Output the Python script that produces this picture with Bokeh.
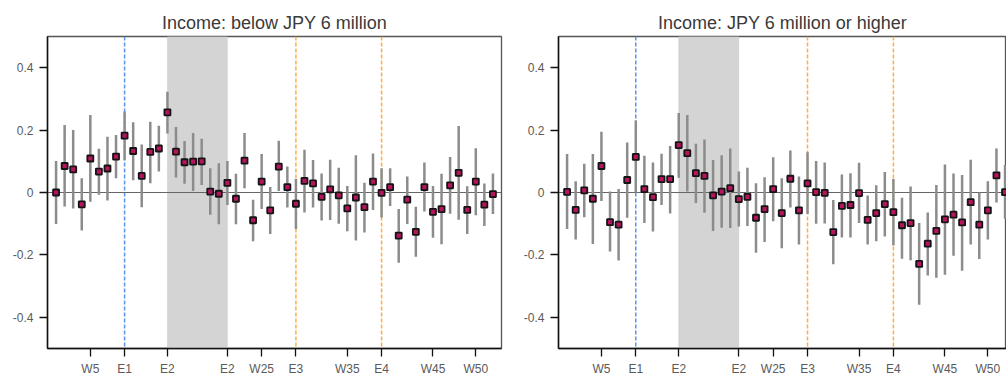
from bokeh.plotting import figure
from bokeh.layouts import row
from bokeh.models import (BoxAnnotation, Span, FixedTicker, CustomJSTickFormatter,
                          ColumnDataSource, Range1d)
from bokeh.embed import file_html
from bokeh.resources import INLINE

# Survey weeks 1..52
weeks = list(range(1, 53))

# Estimated effects and 95% intervals, income below JPY 6 million
low_est = [0.000, 0.085, 0.074, -0.038, 0.109, 0.067, 0.077, 0.115, 0.182, 0.133,
           0.053, 0.130, 0.141, 0.257, 0.131, 0.097, 0.099, 0.100, 0.003, -0.004,
           0.031, -0.020, 0.102, -0.089, 0.035, -0.057, 0.083, 0.017, -0.036, 0.037,
           0.029, -0.014, 0.010, -0.009, -0.051, -0.016, -0.047, 0.035, -0.001, 0.017,
           -0.138, -0.023, -0.126, 0.017, -0.062, -0.053, 0.023, 0.063, -0.056, 0.035,
           -0.039, -0.005]
low_hi = [0.101, 0.216, 0.200, 0.046, 0.248, 0.140, 0.179, 0.184, 0.260, 0.225,
          0.154, 0.227, 0.214, 0.323, 0.210, 0.165, 0.191, 0.172, 0.078, 0.094,
          0.101, 0.060, 0.191, -0.023, 0.123, 0.018, 0.166, 0.083, 0.043, 0.137,
          0.104, 0.061, 0.105, 0.079, 0.021, 0.119, 0.031, 0.125, 0.078, 0.078,
          -0.053, 0.051, -0.046, 0.096, 0.021, 0.060, 0.114, 0.213, 0.020, 0.142,
          0.029, 0.061]
low_lo = [-0.101, -0.045, -0.051, -0.122, -0.030, -0.007, -0.026, 0.046, 0.103, 0.039,
          -0.047, 0.030, 0.067, 0.189, 0.048, 0.028, 0.005, 0.024, -0.071, -0.102,
          -0.040, -0.102, 0.014, -0.156, -0.053, -0.133, 0.005, -0.048, -0.117, -0.064,
          -0.048, -0.090, -0.088, -0.100, -0.124, -0.154, -0.128, -0.056, -0.080, -0.043,
          -0.225, -0.101, -0.206, -0.061, -0.145, -0.166, -0.068, -0.087, -0.133, -0.073,
          -0.107, -0.069]

# Estimated effects and 95% intervals, income JPY 6 million or higher
high_est = [0.002, -0.056, 0.007, -0.020, 0.085, -0.095, -0.103, 0.040, 0.114, 0.011,
            -0.015, 0.043, 0.043, 0.152, 0.126, 0.062, 0.053, -0.009, 0.003, 0.014,
            -0.021, -0.014, -0.081, -0.053, 0.011, -0.066, 0.044, -0.057, 0.029, 0.001,
            -0.001, -0.127, -0.043, -0.040, -0.002, -0.088, -0.066, -0.037, -0.063, -0.105,
            -0.098, -0.229, -0.164, -0.123, -0.086, -0.071, -0.096, -0.031, -0.103, -0.057,
            0.055, 0.001]
high_hi = [0.123, 0.036, 0.092, 0.123, 0.195, 0.003, 0.011, 0.160, 0.231, 0.118,
           0.096, 0.124, 0.149, 0.255, 0.248, 0.156, 0.170, 0.104, 0.119, 0.141,
           0.067, 0.079, 0.030, 0.049, 0.113, 0.046, 0.135, 0.051, 0.129, 0.101,
           0.096, -0.024, 0.058, 0.062, 0.095, -0.010, 0.023, 0.066, 0.043, -0.017,
           0.019, -0.098, -0.064, 0.024, 0.090, 0.061, 0.056, 0.105, 0.000, 0.036,
           0.141, 0.088]
high_lo = [-0.117, -0.151, -0.079, -0.165, -0.027, -0.189, -0.218, -0.081, 0.000, -0.098,
           -0.125, -0.040, -0.067, 0.047, 0.003, -0.034, -0.065, -0.123, -0.113, -0.114,
           -0.109, -0.107, -0.193, -0.159, -0.092, -0.179, -0.048, -0.167, -0.069, -0.100,
           -0.099, -0.230, -0.144, -0.144, -0.098, -0.167, -0.156, -0.141, -0.170, -0.212,
           -0.217, -0.360, -0.266, -0.273, -0.264, -0.203, -0.251, -0.167, -0.213, -0.151,
           -0.032, -0.084]

# Axis ticks and labels
x_tick_pos = [5, 9, 14, 21, 25, 29, 35, 39, 45, 50]
x_tick_lab = ["W5", "E1", "E2", "E2", "W25", "E3", "W35", "E4", "W45", "W50"]
y_ticks = [-0.4, -0.2, 0, 0.2, 0.4]

# Event markers: state of emergency period and election weeks
emergency_start, emergency_end = 14, 21
blue_events = [9]
orange_events = [29, 39]

FONT = "Liberation Sans"


def make_panel(title, est, lo, hi, width, border_left, border_right, x_end):
    p = figure(width=width, height=378, output_backend="svg", toolbar_location=None,
               x_range=Range1d(0, x_end), y_range=Range1d(-0.5, 0.5),
               min_border_left=border_left, min_border_right=border_right,
               min_border_top=36, min_border_bottom=30, title=title)
    p.title.align = "center"
    p.title.text_font = FONT
    p.title.text_font_size = "18px"
    p.title.text_font_style = "normal"
    p.title.text_color = "#3a3a3a"
    p.title.standoff = 8

    p.xgrid.visible = False
    p.ygrid.visible = False
    p.outline_line_color = "#555555"
    p.outline_line_width = 1.3

    p.add_layout(BoxAnnotation(left=emergency_start, right=emergency_end,
                               fill_color="#d4d4d4", fill_alpha=1.0,
                               line_color="#bdbdbd", line_width=1, level="underlay"))
    for x in blue_events:
        p.add_layout(Span(location=x, dimension="height", line_color="#5a93ee",
                          line_dash="4 2", line_width=1.5, level="underlay"))
    for x in orange_events:
        p.add_layout(Span(location=x, dimension="height", line_color="#ffad45",
                          line_dash="4 2", line_width=1.5, level="underlay"))
    p.add_layout(Span(location=0, dimension="width", line_color="#666666",
                      line_width=1.2, level="underlay"))

    src = ColumnDataSource(dict(x=weeks, est=est, lo=lo, hi=hi))
    p.segment(x0="x", y0="lo", x1="x", y1="hi", source=src,
              line_color="#8c8c8c", line_width=2.5)
    p.scatter(x="x", y="est", source=src, marker="square", size=6,
              fill_color="#b8145e", line_color="#141414", line_width=1.8)

    for ax in (p.xaxis[0], p.yaxis[0]):
        ax.axis_line_color = "#111111"
        ax.axis_line_width = 1.5
        ax.major_tick_line_color = "#111111"
        ax.major_tick_line_width = 1.3
        ax.major_tick_out = 8
        ax.major_tick_in = 0
        ax.minor_tick_out = 0
        ax.minor_tick_in = 0
        ax.major_label_text_font = FONT
        ax.major_label_text_font_size = "12px"
        ax.major_label_text_color = "#5a5a5a"

    p.xaxis.ticker = FixedTicker(ticks=x_tick_pos)
    p.xaxis.major_label_overrides = {k: v for k, v in zip(x_tick_pos, x_tick_lab)}
    p.xaxis.major_label_standoff = 5
    p.yaxis.ticker = FixedTicker(ticks=y_ticks)
    p.yaxis.formatter = CustomJSTickFormatter(
        code="return Math.abs(tick) < 1e-9 ? '0' : tick.toFixed(1);")
    p.yaxis.major_label_standoff = 6
    return p


left = make_panel("Income: below JPY 6 million", low_est, low_lo, low_hi,
                  width=512, border_left=47, border_right=11, x_end=53)
right = make_panel("Income: JPY 6 million or higher", high_est, high_lo, high_hi,
                   width=494, border_left=46, border_right=0, x_end=52.17)

layout = row(left, right)
open("out.html", "w").write(file_html(layout, INLINE))
